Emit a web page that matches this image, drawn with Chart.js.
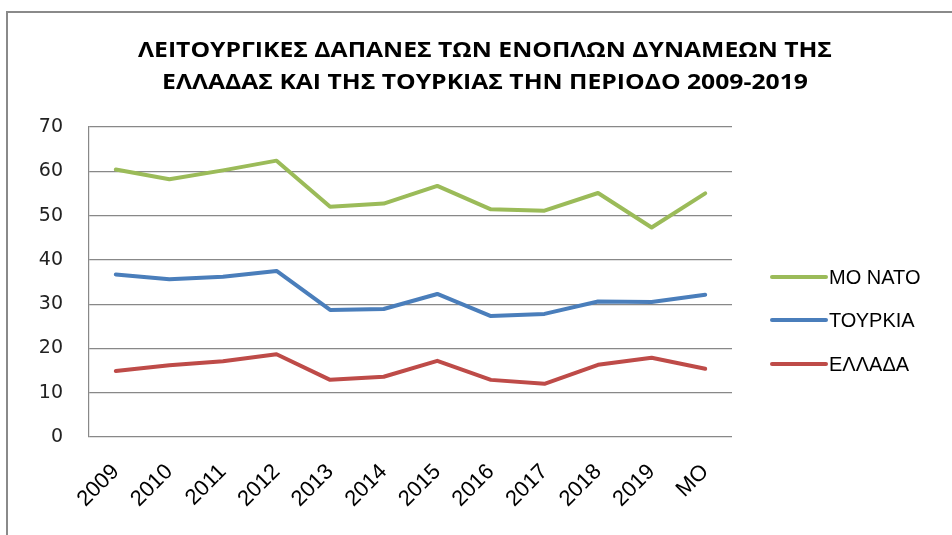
<!DOCTYPE html>
<html>
<head>
<meta charset="utf-8">
<script src="https://cdn.jsdelivr.net/npm/chart.js@4"></script>
<style>
  html, body { margin: 0; padding: 0; background: #fff; }
  #wrap { position: relative; width: 952px; height: 535px; }
</style>
</head>
<body>
<div id="wrap"><canvas id="chart"></canvas></div>
<script>
// categories and values
const years = ['2009', '2010', '2011', '2012', '2013', '2014', '2015', '2016', '2017', '2018', '2019', 'MO'];
const natoAvg = [60.4, 58.2, 60.2, 62.4, 52.0, 52.7, 56.7, 51.4, 51.1, 55.1, 47.3, 55.0];
const turkey = [36.7, 35.6, 36.2, 37.5, 28.7, 28.9, 32.3, 27.3, 27.8, 30.6, 30.5, 32.1];
const greece = [14.9, 16.2, 17.1, 18.7, 12.9, 13.6, 17.2, 12.9, 12.0, 16.3, 17.9, 15.4];
const titleLines = [
    'ΛΕΙΤΟΥΡΓΙΚΕΣ ΔΑΠΑΝΕΣ ΤΩΝ ΕΝΟΠΛΩΝ ΔΥΝΑΜΕΩΝ ΤΗΣ',
    'ΕΛΛΑΔΑΣ ΚΑΙ ΤΗΣ ΤΟΥΡΚΙΑΣ ΤΗΝ ΠΕΡΙΟΔΟ 2009-2019'
];

// frame round the chart (top and left edges only are visible)
const framePlugin = {
    id: 'frame',
    beforeDraw(chart) {
        const c = chart.ctx;
        c.save();
        c.strokeStyle = '#8a8a8a';
        c.lineWidth = 2;
        c.beginPath();
        c.moveTo(7, 535);
        c.lineTo(7, 12);
        c.lineTo(952, 12);
        c.stroke();
        c.restore();
    }
};

// title, squeezed a little to look like the narrow original font
const titlePlugin = {
    id: 'narrowTitle',
    afterDraw(chart) {
        const c = chart.ctx;
        c.save();
        c.font = 'bold 21px "Open Sans", sans-serif';
        c.fillStyle = '#000';
        c.textAlign = 'center';
        c.textBaseline = 'alphabetic';
        const sx = 694 / c.measureText(titleLines[0]).width;
        c.translate(485, 0);
        c.scale(sx, 1);
        c.fillText(titleLines[0], 0, 57);
        c.fillText(titleLines[1], 0, 89);
        c.restore();
    }
};

// legend on the right, drawn from the datasets
const sideLegend = {
    id: 'sideLegend',
    afterDraw(chart) {
        const c = chart.ctx;
        const rows = [277, 320, 364];
        c.save();
        chart.data.datasets.forEach((ds, i) => {
            const y = rows[i];
            c.strokeStyle = ds.borderColor;
            c.lineWidth = 4;
            c.lineCap = 'round';
            c.beginPath();
            c.moveTo(772, y);
            c.lineTo(826, y);
            c.stroke();
            c.fillStyle = '#000';
            c.font = '20px "Liberation Sans", sans-serif';
            c.textBaseline = 'middle';
            c.textAlign = 'left';
            c.fillText(ds.label, 829, y + 1);
        });
        c.restore();
    }
};

const ctx = document.getElementById('chart').getContext('2d');
const chart = new Chart(ctx, {
    type: 'line',
    data: {
        labels: years,
        datasets: [
            { label: 'ΜΟ ΝΑΤΟ', data: natoAvg, borderColor: '#9BBB59' },
            { label: 'ΤΟΥΡΚΙΑ', data: turkey, borderColor: '#4A7EBB' },
            { label: 'ΕΛΛΑΔΑ', data: greece, borderColor: '#BE4B48' }
        ]
    },
    options: {
        responsive: true,
        maintainAspectRatio: false,
        animation: false,
        layout: { padding: { left: 0, right: 220, top: 127, bottom: 0 } },
        elements: {
            line: { borderWidth: 4, tension: 0, borderCapStyle: 'round', borderJoinStyle: 'round' },
            point: { radius: 0, hoverRadius: 0 }
        },
        plugins: {
            legend: { display: false },
            tooltip: { enabled: false },
            title: { display: false }
        },
        scales: {
            x: {
                offset: true,
                grid: { display: false },
                border: { display: false },
                ticks: {
                    color: '#000',
                    font: { family: '"Liberation Sans", sans-serif', size: 22 },
                    minRotation: 45,
                    maxRotation: 45,
                    padding: 14
                },
                afterFit(scale) { scale.height = 98; }
            },
            y: {
                min: 0,
                max: 70,
                grid: { color: '#888', lineWidth: 1.2, drawTicks: false },
                border: { color: '#888', width: 1.2 },
                ticks: {
                    stepSize: 10,
                    color: '#222',
                    font: { family: '"DejaVu Sans", sans-serif', size: 19 },
                    padding: 26
                },
                afterFit(scale) { scale.width = 89; }
            }
        }
    },
    plugins: [framePlugin, titlePlugin, sideLegend]
});
</script>
</body>
</html>
